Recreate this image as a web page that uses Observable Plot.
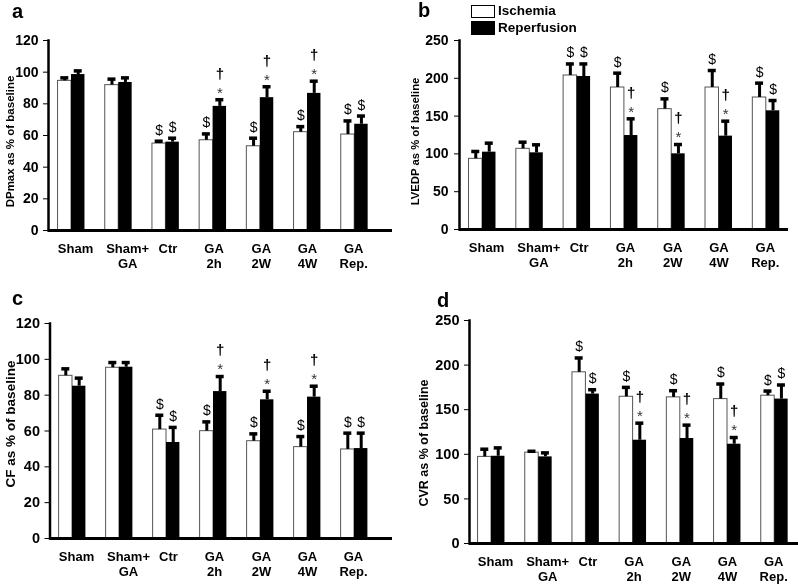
<!DOCTYPE html>
<html>
<head>
<meta charset="utf-8">
<script src="https://cdn.jsdelivr.net/npm/d3@7"></script>
<script src="https://cdn.jsdelivr.net/npm/@observablehq/plot@0.6"></script>
<style>
  body { margin: 0; background: #fff; }
  #root { position: relative; width: 798px; height: 584px; overflow: hidden; font-family: "Liberation Sans", Arial, sans-serif; }
  .panel { position: absolute; will-change: transform; }
  .letter { position: absolute; font-weight: bold; font-size: 20px; line-height: 20px; color: #000; }
  .legend-box { position: absolute; box-sizing: border-box; }
  .legend-text { position: absolute; font-weight: bold; font-size: 13.5px; line-height: 14px; color: #000; }
</style>
</head>
<body>
<div id="root"></div>
<script>
// ---------- data ----------
const groups = ["Sham", "Sham+GA", "Ctr", "GA 2h", "GA 2W", "GA 4W", "GA Rep."];
const groupLabels = ["Sham", "Sham+\nGA", "Ctr", "GA\n2h", "GA\n2W", "GA\n4W", "GA\nRep."];
const seriesNames = ["Ischemia", "Reperfusion"];
const panelLetters = ["a", "b", "c", "d"];
const yTitles = ["DPmax as % of baseline", "LVEDP as % of baseline", "CF as % of baseline", "CVR as % of baseline"];

// a: DPmax
const dpIsch    = [94.5, 91.8, 54.9, 57.0, 53.2, 62.1, 60.6];
const dpIschSem = [1.9, 3.8, 1.5, 4.0, 5.1, 3.5, 8.6];
const dpRep     = [98.5, 93.5, 55.8, 78.4, 83.9, 86.6, 67.1];
const dpRepSem  = [2.3, 2.9, 2.5, 4.2, 6.9, 7.7, 5.2];
// b: LVEDP
const lvIsch    = [93.5, 106.7, 203.7, 187.8, 159.2, 187.8, 174.6];
const lvIschSem = [9.7, 8.8, 15.3, 19.0, 13.6, 22.5, 19.0];
const lvRep     = [102.3, 101.4, 202.4, 124.3, 100.1, 123.5, 157.0];
const lvRepSem  = [11.9, 10.6, 16.6, 22.1, 12.3, 19.8, 13.6];
// c: CF
const cfIsch    = [90.8, 95.3, 60.8, 59.9, 54.3, 51.0, 49.7];
const cfIschSem = [3.9, 2.9, 8.0, 5.2, 4.1, 5.9, 9.1];
const cfRep     = [85.0, 95.6, 53.6, 82.0, 77.4, 78.9, 50.2];
const cfRepSem  = [4.5, 2.6, 8.4, 8.4, 4.8, 6.1, 8.6];
// d: CVR
const cvIsch    = [97.1, 101.9, 191.9, 164.5, 163.8, 161.9, 165.7];
const cvIschSem = [8.6, 1.5, 16.1, 10.5, 7.5, 16.9, 5.2];
const cvRep     = [97.8, 97.1, 167.5, 115.8, 117.7, 111.3, 161.9];
const cvRepSem  = [9.4, 4.5, 4.9, 19.1, 15.0, 7.5, 15.8];

// significance marks (same pattern in every panel)
const markIsch    = ["", "", "$", "$", "$", "$", "$"];
const markRep     = ["", "", "$", "*", "*", "*", "$"];
const markRepHigh = ["", "", "", "\u2020", "\u2020", "\u2020", ""];

// y axis extents / tick counts
const yMax = [120, 250, 120, 250];
const yTickCount = [6, 5, 6, 5];

// ---------- layout ----------
const layouts = [
  {left: 0,   top: 0,   width: 398, height: 290, mL: 48,   mR: 6,  mT: 40, mB: 60, c0: 71, step: 47.2, titleDx: -38,   titleDy: 6,   titleSize: 11.5, tickSize: 14,   tickPad: 5, letterX: 12,  letterY: 1},
  {left: 398, top: 0,   width: 400, height: 290, mL: 61,   mR: 10, mT: 40, mB: 61, c0: 84, step: 47.3, titleDx: -44,   titleDy: 6.5, titleSize: 11.3, tickSize: 14,   tickPad: 6, letterX: 20,  letterY: 0},
  {left: 0,   top: 290, width: 398, height: 294, mL: 49.5, mR: 6,  mT: 33, mB: 46, c0: 72, step: 47,   titleDx: -39.5, titleDy: -7,  titleSize: 13.5, tickSize: 14.5, tickPad: 5, letterX: 12,  letterY: -2},
  {left: 398, top: 290, width: 400, height: 294, mL: 71,   mR: 0,  mT: 30, mB: 41, c0: 93, step: 47.2, titleDx: -46,   titleDy: 11,  titleSize: 12.5, tickSize: 14.5, tickPad: 5, letterX: 39,  letterY: 0}
];
const labelNudge = [4, 9, 2, 1, 1, 0, -1];

const panelData = [
  [dpIsch, dpIschSem, dpRep, dpRepSem],
  [lvIsch, lvIschSem, lvRep, lvRepSem],
  [cfIsch, cfIschSem, cfRep, cfRepSem],
  [cvIsch, cvIschSem, cvRep, cvRepSem]
];

const root = document.getElementById("root");
const padInner = 0.43;

panelData.forEach(([isch, ischSem, rep, repSem], p) => {
  const L = layouts[p];
  const bw = L.step * (1 - padInner);
  const half = bw / 2;
  const capInset = (half - 8) / 2;

  const rowsI = groups.map((g, i) => ({g, v: isch[i], hi: isch[i] + ischSem[i], mark: markIsch[i]}));
  const rowsR = groups.map((g, i) => ({g, v: rep[i], hi: rep[i] + repSem[i], mark: markRep[i], mark2: markRepHigh[i]}));

  const labelMarks = groups.map((g, i) => Plot.text([g], {
    x: d => d, text: () => groupLabels[i], frameAnchor: "bottom", lineAnchor: "top", textAnchor: "middle",
    dy: 11, dx: labelNudge[i], fontSize: 13, fontWeight: "bold", lineHeight: 1.2, fill: "black"
  }));

  const chart = Plot.plot({
    width: L.width, height: L.height,
    marginLeft: L.mL, marginRight: L.mR, marginTop: L.mT, marginBottom: L.mB,
    style: {fontFamily: "'Liberation Sans', Arial, sans-serif", fontSize: L.tickSize + "px", fontWeight: "bold", color: "black", background: "transparent", overflow: "visible"},
    x: {type: "band", domain: groups, range: [L.c0 - L.step / 2, L.c0 + 6 * L.step + L.step / 2], paddingInner: padInner, paddingOuter: padInner / 2, round: false, axis: null},
    y: {domain: [0, yMax[p]], ticks: yTickCount[p], tickSize: 5, tickPadding: L.tickPad, label: null},
    marks: [
      Plot.barY(rowsI, {x: "g", y: "v", fill: "white", stroke: "#555", strokeWidth: 1, insetRight: half}),
      Plot.barY(rowsR, {x: "g", y: "v", fill: "black", insetLeft: half}),
      Plot.ruleX(rowsI, {x: "g", y1: "v", y2: "hi", dx: -half / 2, stroke: "black", strokeWidth: 3}),
      Plot.ruleX(rowsR, {x: "g", y1: "v", y2: "hi", dx: half / 2, stroke: "black", strokeWidth: 3}),
      Plot.tickY(rowsI, {x: "g", y: "hi", insetLeft: capInset, insetRight: half + capInset, stroke: "black", strokeWidth: 3.5}),
      Plot.tickY(rowsR, {x: "g", y: "hi", insetLeft: half + capInset, insetRight: capInset, stroke: "black", strokeWidth: 3.5}),
      Plot.ruleY([0], {stroke: "black", strokeWidth: 3}),
      Plot.frame({anchor: "left", stroke: "black", strokeWidth: 2.5}),
      Plot.text(rowsI.filter(d => d.mark), {x: "g", y: "hi", text: "mark", dx: -half / 2, dy: -11, fontSize: 14, fontWeight: "normal", fill: "black"}),
      Plot.text(rowsR.filter(d => d.mark === "$"), {x: "g", y: "hi", text: "mark", dx: half / 2, dy: -11, fontSize: 14, fontWeight: "normal", fill: "black"}),
      Plot.text(rowsR.filter(d => d.mark === "*"), {x: "g", y: "hi", text: "mark", dx: half / 2, dy: -7, fontSize: 15, fontWeight: "normal", fill: "#333"}),
      Plot.text(rowsR.filter(d => d.mark2), {x: "g", y: "hi", text: "mark2", dx: half / 2, dy: -26, fontSize: 15, fontWeight: "bold", fill: "black"}),
      Plot.text([yTitles[p]], {text: d => d, frameAnchor: "left", textAnchor: "middle", rotate: -90, dx: L.titleDx, dy: L.titleDy, fontSize: L.titleSize, fontWeight: "bold", fill: "black"}),
      ...labelMarks
    ]
  });
  const wrap = document.createElement("div");
  wrap.className = "panel";
  wrap.style.left = L.left + "px";
  wrap.style.top = L.top + "px";
  wrap.appendChild(chart);
  root.appendChild(wrap);

  const letter = document.createElement("div");
  letter.className = "letter";
  letter.textContent = panelLetters[p];
  letter.style.left = (L.left + L.letterX) + "px";
  letter.style.top = (L.top + L.letterY) + "px";
  root.appendChild(letter);
});

// legend (panel b)
const legendBoxes = [
  {left: 471, top: 5, width: 24, height: 13, bg: "#fff", border: "1.5px solid #000"},
  {left: 471, top: 21, width: 24, height: 14, bg: "#000", border: "none"}
];
seriesNames.forEach((name, i) => {
  const b = legendBoxes[i];
  const box = document.createElement("div");
  box.className = "legend-box";
  Object.assign(box.style, {left: b.left + "px", top: b.top + "px", width: b.width + "px", height: b.height + "px", background: b.bg, border: b.border});
  root.appendChild(box);
  const t = document.createElement("div");
  t.className = "legend-text";
  t.textContent = name;
  t.style.left = "498px";
  t.style.top = (i === 0 ? 4 : 21) + "px";
  root.appendChild(t);
});
</script>
</body>
</html>
